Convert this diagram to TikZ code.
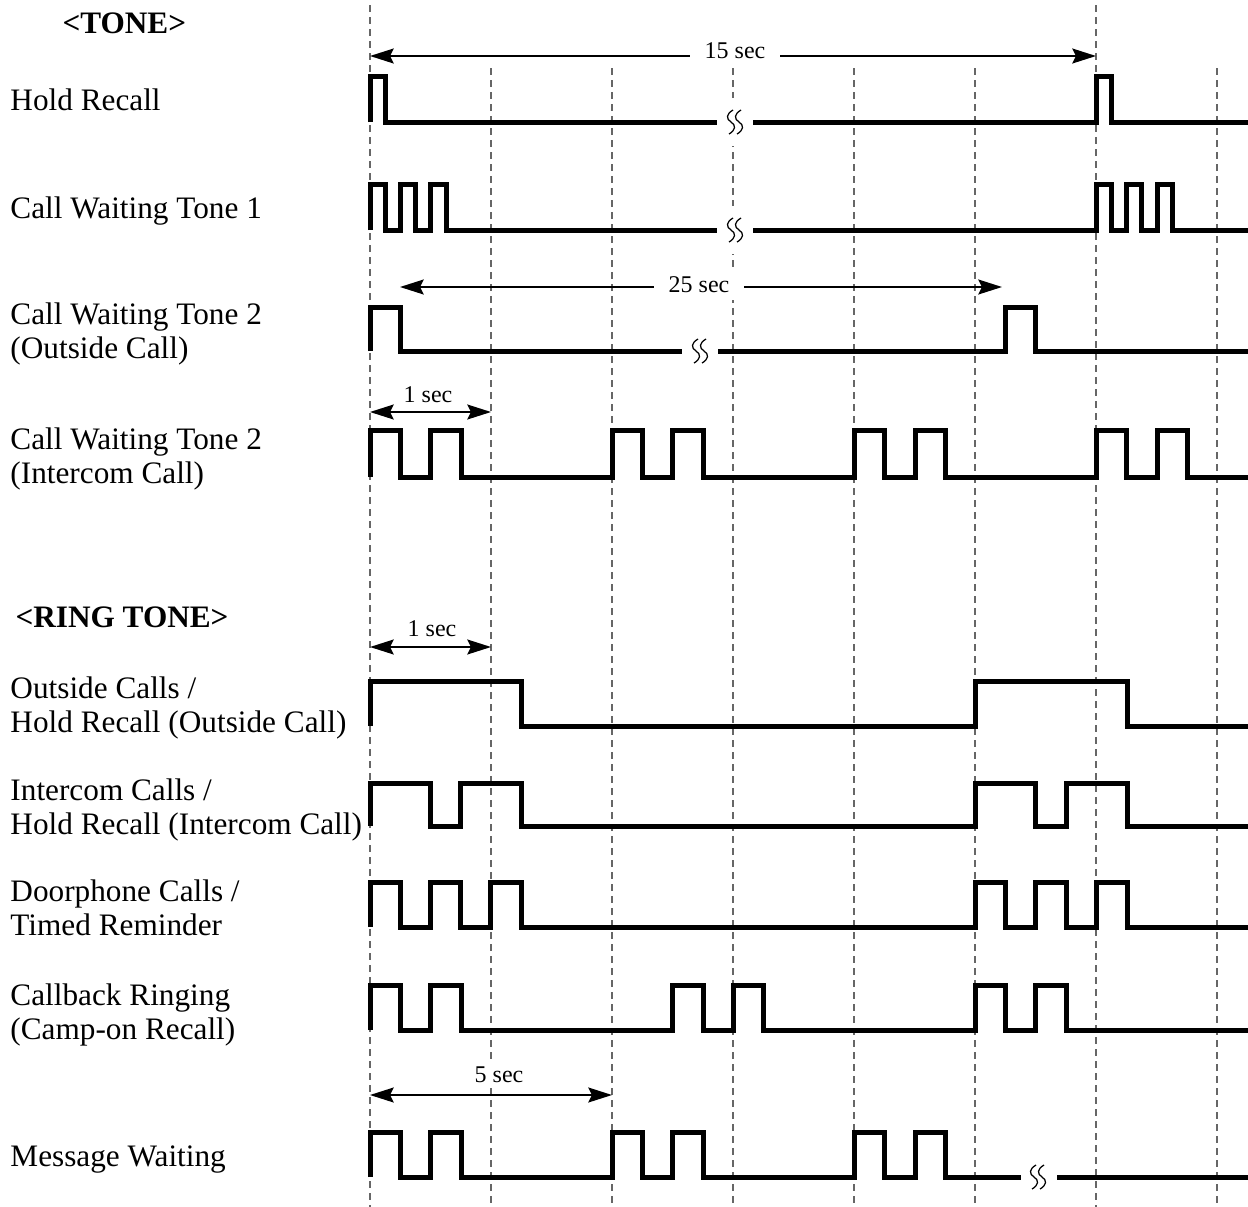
\documentclass[tikz,border=0pt]{standalone}
\usepackage{fontspec}
\setmainfont{Liberation Serif}
\usetikzlibrary{arrows.meta}
\tikzset{
  wave/.style={line width=2pt, line join=miter},
  gridline/.style={draw=black!60, line width=0.45pt, dash pattern=on 2.8pt off 2pt},
  dimarr/.style={{Stealth[length=9.5pt,width=6pt,inset=1.5pt]}-{Stealth[length=9.5pt,width=6pt,inset=1.5pt]}, line width=0.8pt},
  lbl/.style={anchor=base west, inner sep=0pt, align=left, font=\fontsize{12.5}{13.6}\selectfont},
  headlbl/.style={lbl, font=\fontsize{12.5}{13.6}\selectfont\bfseries},
  seclbl/.style={anchor=base, inner sep=0pt, font=\fontsize{9.6}{11}\selectfont},
  gaplbl/.style={seclbl, fill=white, inner xsep=6pt, inner ysep=3pt},
  pics/breakmark/.style={code={
    \fill[white] (-10,-24) rectangle (10,24);
    \foreach \d in {-4,4}
      \draw[line width=0.5pt] (\d+2,-12) .. controls (\d-5,-8) and (\d-5,-3) .. (\d,0)
        .. controls (\d+5,3) and (\d+5,8) .. (\d-2,12);
  }}
}
\begin{document}
\begin{tikzpicture}[x=0.4pt, y=-0.4pt]
\useasboundingbox (0,0) rectangle (1248,1207);
% time grid
\foreach \gx in {370,1096} \draw[gridline] (\gx,5) -- (\gx,1207);
\foreach \gx in {491,612,733,854,975,1217} \draw[gridline] (\gx,68) -- (\gx,1207);

% labels (base = last line)
\node[headlbl] (tone) at (62,33) {<TONE>};
\node[lbl] (hold) at (10,110) {Hold Recall};
\node[lbl] (cwt1) at (10,218) {Call Waiting Tone 1};
\node[lbl] (cwt2o) at (10,358) {Call Waiting Tone 2\\(Outside Call)};
\node[lbl] (cwt2i) at (10,483) {Call Waiting Tone 2\\(Intercom Call)};
\node[headlbl] (ring) at (15,627) {<RING TONE>};
\node[lbl] (outc) at (10,732) {Outside Calls /\\Hold Recall (Outside Call)};
\node[lbl] (intc) at (10,834) {Intercom Calls /\\Hold Recall (Intercom Call)};
\node[lbl] (door) at (10,935) {Doorphone Calls /\\Timed Reminder};
\node[lbl] (cback) at (10,1039) {Callback Ringing\\(Camp-on Recall)};
\node[lbl] (msgw) at (10,1166) {Message Waiting};

% time spans
\coordinate (a15) at (370,56);
\coordinate (b15) at (1096,56);
\draw[dimarr] (a15) -- (b15);
\node[gaplbl] (l15) at (735,58) {15 sec};
\coordinate (a25) at (400,287);
\coordinate (b25) at (1002,287);
\draw[dimarr] (a25) -- (b25);
\node[gaplbl] (l25) at (699,292) {25 sec};
\coordinate (a1t) at (370,412);
\coordinate (b1t) at (491,412);
\draw[dimarr] (a1t) -- (b1t);
\node[seclbl] (l1t) at (428,402) {1 sec};
\coordinate (a1r) at (370,647);
\coordinate (b1r) at (491,647);
\draw[dimarr] (a1r) -- (b1r);
\node[seclbl] (l1r) at (432,636) {1 sec};
\coordinate (a5) at (370,1095);
\coordinate (b5) at (612,1095);
\draw[dimarr] (a5) -- (b5);
\node[seclbl, fill=white, inner ysep=2pt] (l5) at (499,1082) {5 sec};

% tones
\draw[wave] (370,122) |- (385,76) |- (717,122);
\draw[wave] (753,122) -- (1096,122) |- (1111,76) |- (1248,122);
\pic at (735,122) {breakmark};
\draw[wave] (370,230) |- (385,184) |- (400,230) |- (415,184) |- (430,230) |- (446,184) |- (717,230);
\draw[wave] (753,230) -- (1096,230) |- (1111,184) |- (1126,230) |- (1141,184) |- (1157,230) |- (1172,184) |- (1248,230);
\pic at (735,230) {breakmark};
\draw[wave] (370,351) |- (400,307) |- (682,351);
\draw[wave] (718,351) -- (1005,351) |- (1035,307) |- (1248,351);
\pic at (700,351) {breakmark};
\draw[wave] (370,477) |- (400,430) |- (430,477) |- (461,430) |- (612,477) |- (642,430) |- (672,477) |- (703,430)
  |- (854,477) |- (884,430) |- (915,477) |- (945,430) |- (1096,477) |- (1126,430) |- (1157,477) |- (1187,430) |- (1248,477);

% ring tones
\draw[wave] (370,726) |- (521,681) |- (975,726) |- (1127,681) |- (1248,726);
\draw[wave] (370,826) |- (430,783) |- (460,826) |- (521,783) |- (975,826) |- (1035,783) |- (1066,826) |- (1127,783) |- (1248,826);
\draw[wave] (370,927) |- (400,882) |- (430,927) |- (460,882) |- (490,927) |- (521,882)
  |- (975,927) |- (1005,882) |- (1035,927) |- (1066,882) |- (1096,927) |- (1127,882) |- (1248,927);
\draw[wave] (370,1030) |- (400,985) |- (430,1030) |- (461,985) |- (672,1030) |- (703,985) |- (733,1030) |- (763,985)
  |- (975,1030) |- (1005,985) |- (1035,1030) |- (1066,985) |- (1248,1030);
\draw[wave] (370,1177) |- (400,1132) |- (430,1177) |- (461,1132) |- (612,1177) |- (642,1132) |- (672,1177) |- (703,1132)
  |- (854,1177) |- (884,1132) |- (915,1177) |- (945,1132) |- (1021,1177);
\draw[wave] (1057,1177) -- (1248,1177);
\pic at (1038,1177) {breakmark};
\end{tikzpicture}
\end{document}
